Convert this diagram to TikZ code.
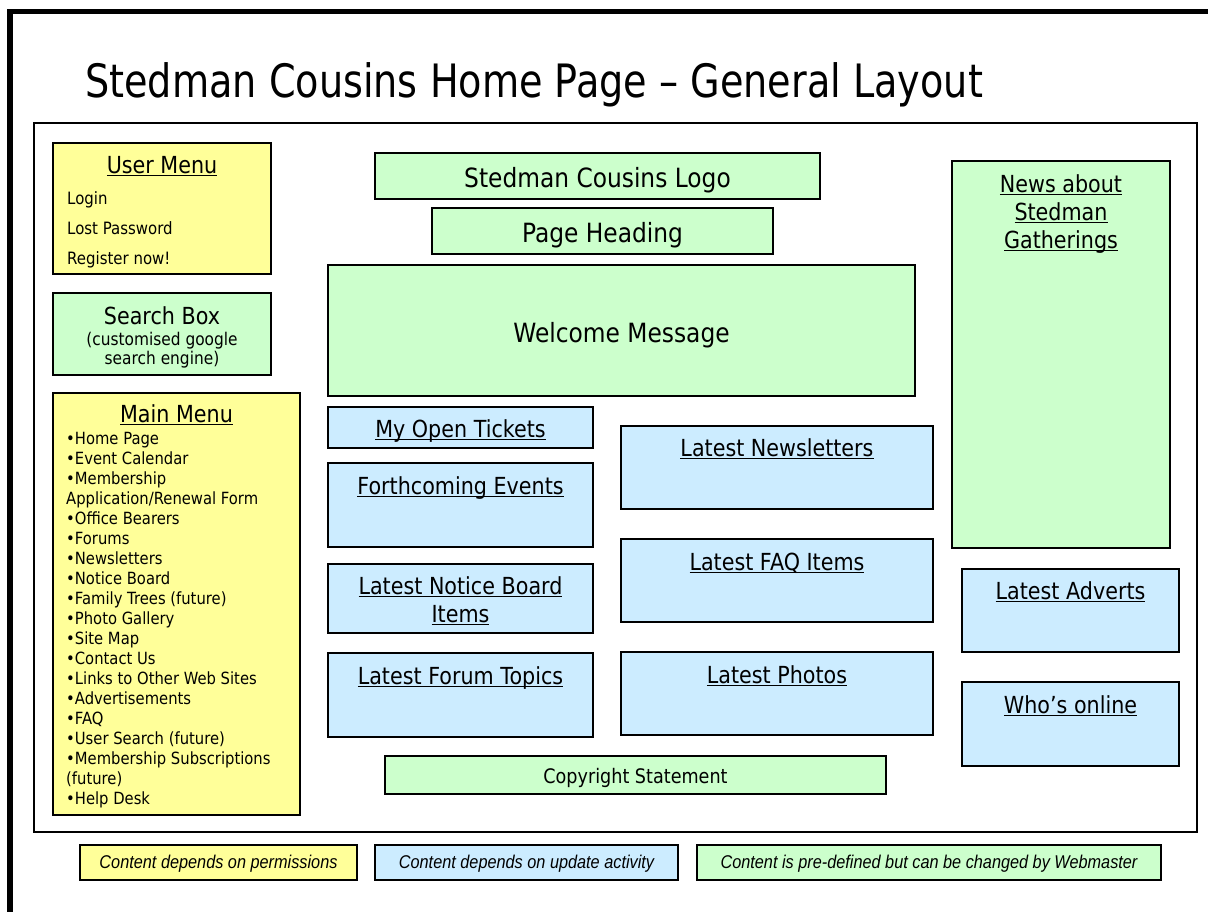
\documentclass[tikz,border=0pt]{standalone}
\usepackage{fontspec}
\setmainfont[FakeStretch=0.88]{DejaVu Sans}
\newfontfamily\titlefont[FakeStretch=0.83]{DejaVu Sans}
\newfontfamily\legendfont[FakeStretch=0.88]{Liberation Sans}
\usetikzlibrary{positioning}

\definecolor{menuyellow}{HTML}{FFFF99}
\definecolor{infoblue}{HTML}{CCECFF}
\definecolor{fixgreen}{HTML}{CCFFCC}

\newcommand\uln[1]{\setbox0\hbox{#1}\rlap{\rule[-0.12em]{\wd0}{0.065em}}\box0}

\tikzset{
  panel/.style={draw=black, line width=1.5pt, inner sep=0pt},
  wh/.style 2 args={minimum width=#1pt, minimum height=#2pt},
  ypanel/.style={panel, fill=menuyellow},
  bpanel/.style={panel, fill=infoblue},
  gpanel/.style={panel, fill=fixgreen},
  large/.style={font=\fontsize{26.5}{30}\selectfont, text height=23pt, text depth=0pt},
  big/.style={font=\fontsize{23.5}{28}\selectfont, text height=20pt, text depth=0pt},
  bighd/.style={font=\fontsize{23.5}{28}\selectfont, inner sep=0pt, anchor=base},
  small/.style={font=\fontsize{17.5}{20}\selectfont, inner sep=0pt, anchor=base},
  menuitem/.style={font=\fontsize{16.8}{20}\selectfont, inner sep=0pt, anchor=base west},
  legend/.style={panel, font=\legendfont\itshape\fontsize{18.5}{20}\selectfont, text height=12.2pt, text depth=0pt}
}

\begin{document}
\begin{tikzpicture}[x=1pt, y=-1pt]
  \clip (0,0) rectangle (1208,911);
  \fill[white] (0,0) rectangle (1208,911);

  % slide frame and page frame
  \draw[line width=5.5pt] (10,11.5) rectangle (1240,950);
  \node[anchor=base west, inner sep=0pt, font=\titlefont\fontsize{46}{50}\selectfont] (title) at (85,97) {Stedman Cousins Home Page – General Layout};
  \draw[line width=2pt] (34,123) rectangle (1197,832);

  % left column
  \node[ypanel, wh={218}{131}] (user) at (162,208.5) {};
  \node[bighd] (user-t) at (162,173.5) {\uln{User Menu}};
  \foreach \t [count=\i] in {Login, Lost Password, Register now!}
    \node[menuitem, font=\fontsize{17}{20}\selectfont] (user-\i) at (67,174.5+30*\i) {\t};

  \node[gpanel, wh={218}{82}] (search) at (162,334) {};
  \node[bighd] (search-t) at (162,324.5) {Search Box};
  \node[small] (search-1) at (162,345.5) {(customised google};
  \node[small] (search-2) at (162,364.5) {search engine)};

  \node[ypanel, wh={247}{422}] (main) at (176.5,604) {};
  \node[bighd] (main-t) at (176.5,422.5) {\uln{Main Menu}};
  \foreach \t [count=\i] in {•Home Page, •Event Calendar, •Membership,
      Application/Renewal Form, •Office Bearers, •Forums, •Newsletters,
      •Notice Board, •Family Trees (future), •Photo Gallery, •Site Map,
      •Contact Us, •Links to Other Web Sites, •Advertisements, •FAQ,
      •User Search (future), •Membership Subscriptions, (future), •Help Desk}
    \node[menuitem] (main-\i) at (66,424+20*\i) {\t};

  % centre column
  \node[gpanel, large, wh={445}{46}] (logo) at (597.5,176) {Stedman Cousins Logo};
  \node[gpanel, large, wh={341}{46}] (heading) at (602.5,231) {Page Heading};
  \node[gpanel, large, wh={587}{131}] (welcome) at (621.5,330.5) {Welcome Message};

  \node[bpanel, big, wh={265}{41}] (tickets) at (460.5,427.5) {\uln{My Open Tickets}};
  \node[bpanel, wh={265}{84}] (events) at (460.5,505) {};
  \node[bighd] (events-t) at (460.5,494.5) {\uln{Forthcoming Events}};
  \node[bpanel, wh={265}{69}] (notice) at (460.5,598.5) {};
  \node[bighd] (notice-1) at (460.5,594.5) {\uln{Latest Notice Board}};
  \node[bighd] (notice-2) at (460.5,622.5) {\uln{Items}};
  \node[bpanel, wh={265}{84}] (forum) at (460.5,695) {};
  \node[bighd] (forum-t) at (460.5,684.5) {\uln{Latest Forum Topics}};

  \node[bpanel, wh={312}{83}] (newsletters) at (777,467.5) {};
  \node[bighd] (newsletters-t) at (777,456.5) {\uln{Latest Newsletters}};
  \node[bpanel, wh={312}{83}] (faq) at (777,580.5) {};
  \node[bighd] (faq-t) at (777,570.5) {\uln{Latest FAQ Items}};
  \node[bpanel, wh={312}{83}] (photos) at (777,693.5) {};
  \node[bighd] (photos-t) at (777,683.5) {\uln{Latest Photos}};

  \node[gpanel, wh={501}{38}, font=\fontsize{20}{24}\selectfont, text height=16pt, text depth=0pt] (copyright) at (635.5,775) {Copyright Statement};

  % right column
  \node[gpanel, wh={218}{387}] (news) at (1061,354.5) {};
  \node[bighd] (news-1) at (1061,192.5) {\uln{News about}};
  \node[bighd] (news-2) at (1061,220.5) {\uln{Stedman}};
  \node[bighd] (news-3) at (1061,248.5) {\uln{Gatherings}};
  \node[bpanel, wh={217}{83}] (adverts) at (1070.5,610.5) {};
  \node[bighd] (adverts-t) at (1070.5,599.5) {\uln{Latest Adverts}};
  \node[bpanel, wh={217}{84}] (online) at (1070.5,724) {};
  \node[bighd] (online-t) at (1070.5,713.5) {\uln{Who’s online}};

  % key
  \node[legend, fill=menuyellow, wh={277}{35}] (key-y) at (218.5,862.5) {Content depends on permissions};
  \node[legend, fill=infoblue, wh={303}{35}] (key-b) at (526.5,862.5) {Content depends on update activity};
  \node[legend, fill=fixgreen, wh={464}{35}] (key-g) at (929,862.5) {Content is pre-defined but can be changed by Webmaster};
\end{tikzpicture}
\end{document}
